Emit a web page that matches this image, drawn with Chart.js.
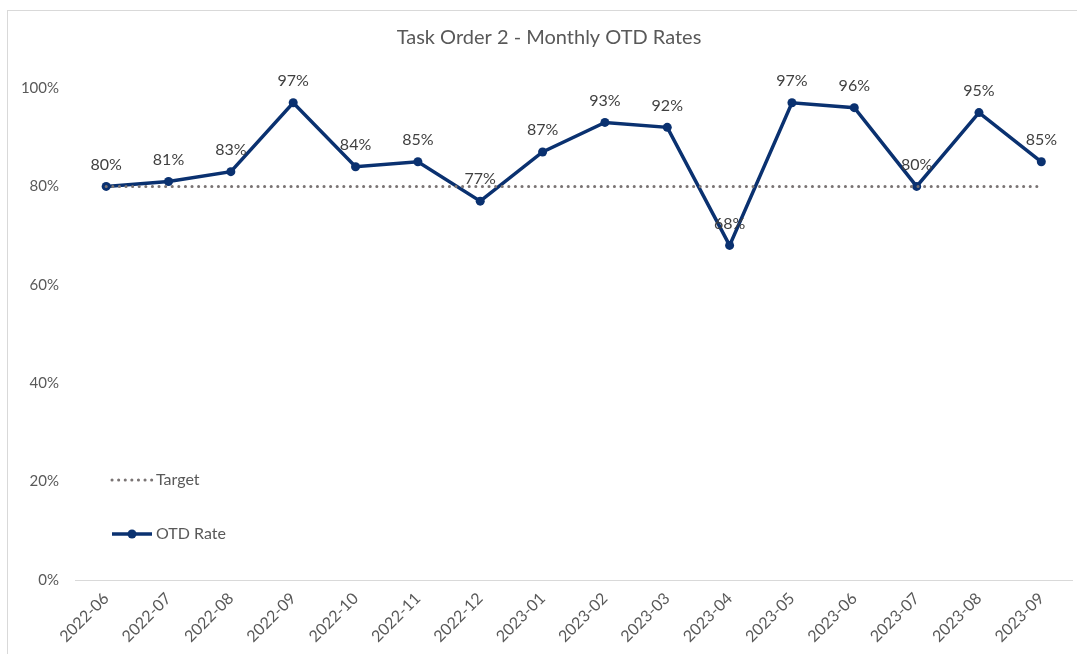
<!DOCTYPE html>
<html>
<head>
<meta charset="utf-8">
<script src="https://cdn.jsdelivr.net/npm/chart.js@4/dist/chart.umd.min.js"></script>
<style>
  html, body { margin: 0; padding: 0; background: #fff; overflow: hidden; }
  #frame { position: absolute; left: 7px; top: 10px; width: 1080px; height: 660px; border: 1px solid #d9d9d9; box-sizing: border-box; }
  #wrap { position: absolute; left: 0; top: 0; width: 1077px; height: 654px; }
</style>
</head>
<body>
<div id="frame"></div>
<div id="wrap"><canvas id="otdChart"></canvas></div>
<script>
// ── Data ────────────────────────────────────────────────────────
const months = ['2022-06', '2022-07', '2022-08', '2022-09', '2022-10', '2022-11', '2022-12', '2023-01',
                '2023-02', '2023-03', '2023-04', '2023-05', '2023-06', '2023-07', '2023-08', '2023-09'];
const otdRate = [80, 81, 83, 97, 84, 85, 77, 87, 93, 92, 68, 97, 96, 80, 95, 85];
const target = [80, 80, 80, 80, 80, 80, 80, 80, 80, 80, 80, 80, 80, 80, 80, 80];
const yTicks = [0, 20, 40, 60, 80, 100];

const FONT = "Lato, 'Open Sans', sans-serif";
const TEXT = '#595959';
const NAVY = '#0a3170';
const GREY = '#7a7474';

// ── Title, data labels and in-plot legend ──────────────────────
const decor = {
    id: 'decor',
    afterDatasetsDraw(chart) {
        const { ctx, chartArea } = chart;
        ctx.save();

        // title
        ctx.fillStyle = TEXT;
        ctx.font = '20px ' + FONT;
        ctx.textAlign = 'center';
        ctx.textBaseline = 'middle';
        ctx.fillText('Task Order 2 - Monthly OTD Rates', 549, 38);

        // labels above the OTD points
        const meta = chart.getDatasetMeta(1);
        ctx.font = '16px ' + FONT;
        ctx.fillStyle = '#404040';
        meta.data.forEach((pt, i) => {
            ctx.fillText(otdRate[i] + '%', pt.x, pt.y - 22);
        });

        // legend
        const lx = chartArea.left + 37;
        ctx.lineCap = 'round';
        ctx.strokeStyle = GREY;
        ctx.lineWidth = 3;
        ctx.setLineDash([0.1, 6.5]);
        ctx.beginPath(); ctx.moveTo(lx, 480); ctx.lineTo(lx + 40, 480); ctx.stroke();
        ctx.setLineDash([]);
        ctx.lineCap = 'butt';
        ctx.strokeStyle = NAVY;
        ctx.lineWidth = 3.5;
        ctx.beginPath(); ctx.moveTo(lx, 534); ctx.lineTo(lx + 40, 534); ctx.stroke();
        ctx.fillStyle = NAVY;
        ctx.beginPath(); ctx.arc(lx + 20, 534, 4.5, 0, Math.PI * 2); ctx.fill();

        ctx.fillStyle = TEXT;
        ctx.font = '16px ' + FONT;
        ctx.textAlign = 'left';
        ctx.fillText('Target', lx + 44, 480);
        ctx.fillText('OTD Rate', lx + 44, 534);
        ctx.restore();
    }
};

new Chart(document.getElementById('otdChart'), {
    type: 'line',
    data: {
        labels: months,
        datasets: [{
            label: 'Target',
            data: target,
            borderColor: GREY,
            borderWidth: 3,
            borderDash: [0.1, 6.5],
            borderCapStyle: 'round',
            pointRadius: 0,
            fill: false
        }, {
            label: 'OTD Rate',
            data: otdRate,
            borderColor: NAVY,
            backgroundColor: NAVY,
            borderWidth: 3.5,
            pointRadius: 4.5,
            pointBackgroundColor: NAVY,
            pointBorderWidth: 0,
            tension: 0,
            fill: false
        }]
    },
    options: {
        responsive: true, maintainAspectRatio: false,
        animation: false,
        layout: { padding: { top: 88, right: 4, left: 0, bottom: 0 } },
        plugins: {
            legend: { display: false },
            title: { display: false },
            tooltip: { enabled: false }
        },
        scales: {
            x: {
                offset: true,
                grid: { display: false, drawTicks: false },
                border: { display: true, color: '#d9d9d9', width: 1 },
                ticks: {
                    color: TEXT, font: { family: FONT, size: 16 },
                    maxRotation: 45, minRotation: 45, padding: 9, autoSkip: false
                },
                afterFit: s => { s.height = 74; }
            },
            y: {
                min: 0, max: 100,
                afterBuildTicks: s => { s.ticks = yTicks.map(v => ({ value: v })); },
                grid: { display: false, drawTicks: false },
                border: { display: false },
                ticks: {
                    color: TEXT, font: { family: FONT, size: 15 }, padding: 16,
                    callback: v => v + '%'
                },
                afterFit: s => { s.width = 75; }
            }
        }
    },
    plugins: [decor]
});
</script>
</body>
</html>
